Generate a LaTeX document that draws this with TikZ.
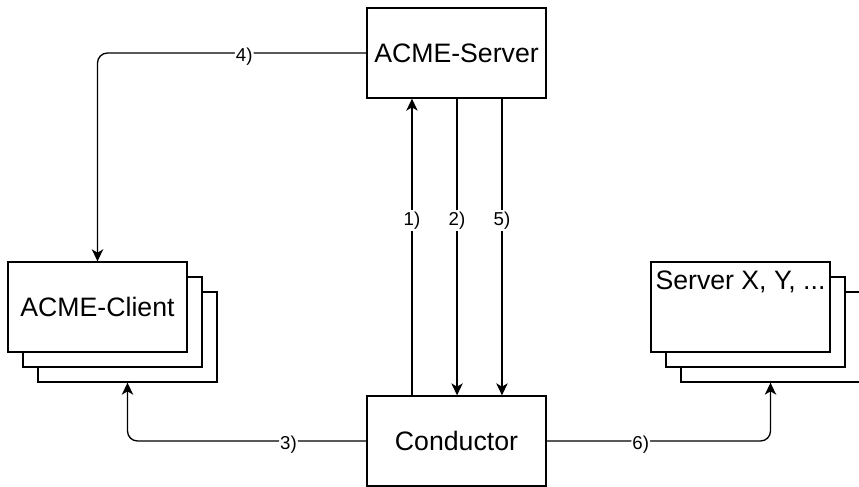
\documentclass[tikz,border=0pt]{standalone}
\usepackage{fontspec}
\setmainfont{Liberation Sans}
\usetikzlibrary{arrows.meta}

\begin{document}
\begin{tikzpicture}[x=0.75pt, y=-0.75pt,
		box/.style={draw, line width=1pt, fill=white, minimum width=134.25pt, minimum height=67.5pt, inner sep=0pt, font=\fontsize{20}{24}\selectfont},
		lbl/.style={fill=white, inner sep=1.2pt, yshift=-2.5pt, font=\fontsize{14}{16}\selectfont},
		flow/.style={line width=1pt, -{Stealth[length=9pt, width=8.5pt, inset=2.5pt]}},
		roundflow/.style={flow, rounded corners=7.5pt}]
			%%%%% START %%%%%
			
			\useasboundingbox (0, 0) rectangle (859, 486);
			
			\node[box] (srv) at (456.5, 53) {ACME-Server};
			\node[box] (cond) at (456.5, 441) {Conductor};
			
			% client stack, back to front
			\node[box] (cli3) at (127.5, 337) {};
			\node[box] (cli2) at (112.5, 322) {};
			\node[box] (cli) at (97.5, 307) {ACME-Client};
			
			% target servers, back to front
			\node[box] (tgt3) at (770.5, 337) {};
			\node[box] (tgt2) at (755.5, 322) {};
			\node[box] (tgt) at (740.5, 307) {};
			\node[font=\fontsize{20}{24}\selectfont, inner sep=0pt] (tgttxt) at ([yshift=-15.75pt]tgt.north) {Server X, Y, ...};
			
			\draw[flow] ([xshift=-33.4pt]cond.north) -- ([xshift=-33.4pt]srv.south) node[lbl, pos=0.6] {1)};
			\draw[flow] ([xshift=0.4pt]srv.south) -- ([xshift=0.4pt]cond.north) node[lbl, pos=0.4] {2)};
			\draw[flow] ([xshift=34.1pt]srv.south) -- ([xshift=34.1pt]cond.north) node[lbl, pos=0.4] {5)};
			
			\draw[roundflow] (srv.west) -| (cli.north) node[lbl, pos=0.227] {4)};
			\draw[roundflow] (cond.west) -| (cli3.south) node[lbl, pos=0.163] {3)};
			\draw[roundflow] (cond.east) -| (tgt3.south) node[lbl, pos=0.21] {6)};
			
			%%%%% END %%%%%
\end{tikzpicture}
\end{document}
